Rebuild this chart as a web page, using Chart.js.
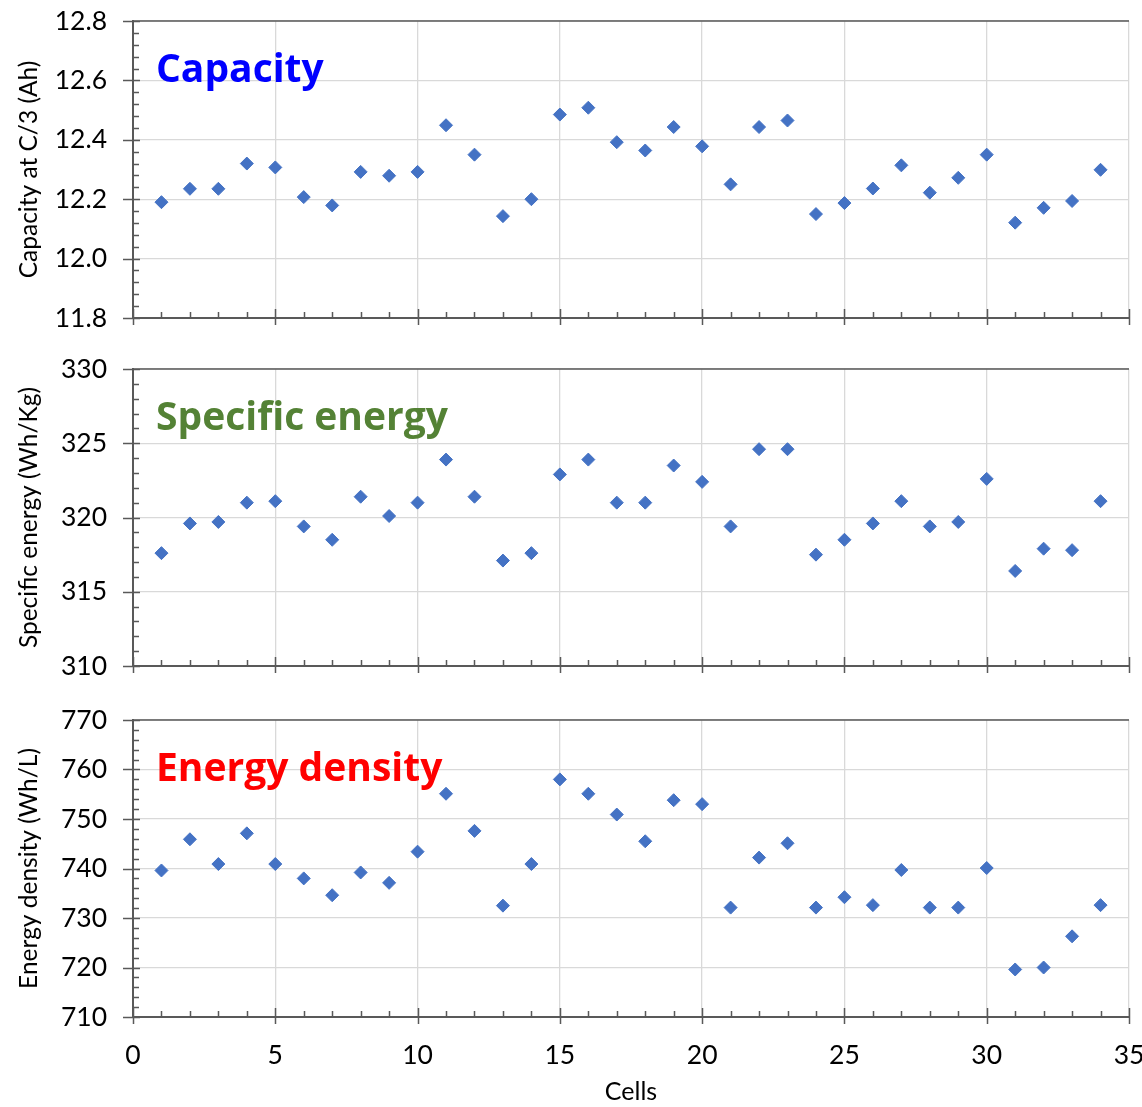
<!DOCTYPE html>
<html>
<head>
<meta charset="utf-8">
<script src="https://cdn.jsdelivr.net/npm/chart.js@4.4.1/dist/chart.umd.min.js"></script>
<style>
  body { margin: 0; background: #fff; }
  #wrap { position: relative; width: 1142px; height: 1107px; }
  canvas { position: absolute; left: 0; }
</style>
</head>
<body>
<div id="wrap">
  <canvas id="capChart" width="1142" height="345" style="top:0"></canvas>
  <canvas id="speChart" width="1142" height="350" style="top:345px"></canvas>
  <canvas id="denChart" width="1142" height="412" style="top:695px"></canvas>
</div>
<script>
// cell numbers and measured values
const cells = [1, 2, 3, 4, 5, 6, 7, 8, 9, 10, 11, 12, 13, 14, 15, 16, 17,
  18, 19, 20, 21, 22, 23, 24, 25, 26, 27, 28, 29, 30, 31, 32, 33, 34];
const capacity = [12.19, 12.235, 12.235, 12.32, 12.307, 12.207, 12.179, 12.292, 12.279, 12.292,
  12.449, 12.35, 12.143, 12.2, 12.485, 12.508, 12.392, 12.364, 12.443, 12.378,
  12.25, 12.443, 12.465, 12.15, 12.187, 12.236, 12.314, 12.222, 12.272, 12.35,
  12.121, 12.171, 12.194, 12.299];
const specificEnergy = [317.6, 319.6, 319.7, 321.0, 321.1, 319.4, 318.5, 321.4, 320.1, 321.0,
  323.9, 321.4, 317.1, 317.6, 322.9, 323.9, 321.0, 321.0, 323.5, 322.4,
  319.4, 324.6, 324.6, 317.5, 318.5, 319.6, 321.1, 319.4, 319.7, 322.6,
  316.4, 317.9, 317.8, 321.1];
const energyDensity = [739.6, 745.9, 740.9, 747.1, 740.9, 738.0, 734.6, 739.2, 737.1, 743.4,
  755.1, 747.6, 732.5, 740.9, 758.0, 755.1, 750.9, 745.5, 753.8, 753.0,
  732.1, 742.2, 745.1, 732.1, 734.2, 732.6, 739.7, 732.1, 732.1, 740.1,
  719.6, 720.0, 726.3, 732.6];

const AXIS = '#595959';
const GRID = '#d9d9d9';
const MARKER = '#4472C4';
const FONT = 'Lato';

// Box top edge, cross-style major ticks, inward minor ticks and the panel heading
const frameTicks = {
  id: 'frameTicks',
  beforeDatasetsDraw(chart, args, opts) {
    const { ctx, chartArea: a, scales: { x, y } } = chart;
    ctx.save();
    ctx.strokeStyle = AXIS;
    ctx.lineWidth = 1.5;
    ctx.beginPath();
    ctx.moveTo(a.left, a.top);
    ctx.lineTo(a.right, a.top);
    for (let v = x.min; v <= x.max; v++) {
      const px = Math.round(x.getPixelForValue(v)) + 0.5;
      if (v % 5 === 0) {
        ctx.moveTo(px, a.bottom - 9);
        ctx.lineTo(px, a.bottom + 7);
      } else {
        ctx.moveTo(px, a.bottom - 6);
        ctx.lineTo(px, a.bottom);
      }
    }
    const major = y.ticks.map(t => t.value);
    major.forEach((v, i) => {
      const py = Math.round(y.getPixelForValue(v)) + 0.5;
      ctx.moveTo(a.left - 10, py);
      ctx.lineTo(a.left + 7, py);
      if (i < major.length - 1) {
        const step = (major[i + 1] - v) / 5;
        for (let k = 1; k < 5; k++) {
          const pm = Math.round(y.getPixelForValue(v + k * step)) + 0.5;
          ctx.moveTo(a.left, pm);
          ctx.lineTo(a.left + 6, pm);
        }
      }
    });
    ctx.stroke();
    ctx.fillStyle = opts.color;
    ctx.font = 'bold 39px "Open Sans"';
    ctx.textBaseline = 'alphabetic';
    ctx.fillText(opts.text, a.left + 23, a.top + 61);
    ctx.restore();
  }
};

function makePanel(id, values, yMin, yMax, yStep, digits, yTitle, heading, headingColor, padTop, xHeight, showX) {
  return new Chart(document.getElementById(id), {
    type: 'scatter',
    data: {
      datasets: [{
        data: cells.map((c, i) => ({ x: c, y: values[i] })),
        pointStyle: 'rectRot',
        pointRadius: 6.5,
        backgroundColor: MARKER,
        borderColor: MARKER,
        borderWidth: 1
      }]
    },
    options: {
      responsive: false,
      animation: false,
      layout: { padding: { top: padTop, left: 0, right: 13, bottom: 0 } },
      plugins: {
        legend: { display: false },
        tooltip: { enabled: false },
        frameTicks: { text: heading, color: headingColor }
      },
      scales: {
        x: {
          type: 'linear',
          min: 0,
          max: 35,
          ticks: { stepSize: 5, display: showX, color: '#000', padding: 23, font: { family: FONT, size: 26.5 } },
          grid: { color: GRID, lineWidth: 1.3, drawTicks: false },
          border: { color: AXIS, width: 2 },
          title: {
            display: showX, text: 'Cells', color: '#000',
            font: { family: FONT, size: 25 }, padding: { top: 0, bottom: 0 }
          },
          afterFit(s) { s.height = xHeight; s.paddingLeft = 0; s.paddingRight = 0; }
        },
        y: {
          min: yMin,
          max: yMax,
          ticks: {
            stepSize: yStep, color: '#000', padding: 26,
            font: { family: FONT, size: 26.5 },
            callback: v => v.toFixed(digits)
          },
          grid: { color: GRID, lineWidth: 1.3, drawTicks: false },
          border: { color: AXIS, width: 2 },
          title: {
            display: true, text: yTitle, color: '#000',
            font: { family: FONT, size: 24.5 }, padding: { top: 14, bottom: 0 }
          },
          afterFit(s) { s.width = 133; s.paddingTop = 0; s.paddingBottom = 0; }
        }
      }
    },
    plugins: [frameTicks]
  });
}

makePanel('capChart', capacity, 11.8, 12.8, 0.2, 1, 'Capacity at C/3 (Ah)', 'Capacity', '#0000ff', 21, 27, false);
makePanel('speChart', specificEnergy, 310, 330, 5, 0, 'Specific energy (Wh/Kg)', 'Specific energy', '#548235', 24, 29, false);
makePanel('denChart', energyDensity, 710, 770, 10, 0, 'Energy density (Wh/L)', 'Energy density', '#ff0000', 25, 90, true);
</script>
</body>
</html>
